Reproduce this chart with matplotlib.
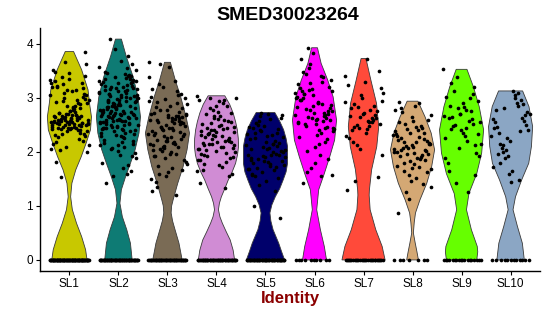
import numpy as np
import matplotlib
matplotlib.use('Agg')
import matplotlib.pyplot as plt

plt.rcParams['font.family'] = ['Liberation Sans', 'DejaVu Sans']

# =============================================================================
# DATA
# =============================================================================
groups = ['SL1', 'SL2', 'SL3', 'SL4', 'SL5', 'SL6', 'SL7', 'SL8', 'SL9', 'SL10']
colors = ['#C8C800', '#0E7B74', '#7A6B55', '#D08CD4', '#00006B',
          '#FF00FF', '#FF4A3A', '#D4A874', '#66FF00', '#8BA6C4']

# number of cells with zero expression in each group
n_zero = [80, 60, 50, 50, 50, 10, 30, 7, 18, 12]

# expression of the non-zero cells
sl1 = [2.55, 3.21, 2.68, 2.43, 3.05, 2.61, 1.82, 2.88, 2.50, 3.33, 2.47, 2.72, 2.20, 3.47, 2.58, 2.64, 2.95, 2.39, 3.12, 2.53,
       2.66, 2.09, 3.28, 2.45, 2.57, 3.86, 2.76, 2.31, 2.62, 3.00, 2.52, 2.84, 2.44, 3.18, 2.70, 2.15, 2.59, 3.38, 2.49, 2.63,
       2.93, 2.36, 3.66, 2.56, 2.74, 2.03, 3.08, 2.51, 2.67, 2.41, 3.25, 2.60, 2.82, 2.27, 2.54, 3.15, 2.46, 2.69, 1.53, 2.98,
       2.58, 3.31, 2.40, 2.65, 2.12, 2.79, 2.52, 3.02, 2.44, 3.52, 2.62, 2.34, 2.90, 2.55, 3.20, 2.48, 2.71, 2.06, 2.86, 2.57,
       3.41, 2.42, 2.64, 2.24, 3.10, 2.53, 2.77, 2.60, 3.27, 2.38, 2.50, 2.97, 2.66, 3.62, 2.45, 2.18, 2.81, 2.59, 3.06, 2.51,
       2.73, 2.33, 3.36, 2.56, 2.91, 2.47, 2.00, 2.68, 3.23, 2.54, 2.85, 2.43, 3.14, 2.61, 2.29, 2.75, 3.49, 2.49, 2.63, 2.96]
sl2 = [2.85, 3.32, 2.41, 2.96, 3.18, 2.12, 2.74, 3.55, 2.63, 1.88, 3.05, 2.52, 3.27, 2.79, 2.35, 3.12, 4.09, 2.68, 2.90, 2.22,
       3.41, 2.57, 3.00, 1.71, 2.83, 3.22, 2.46, 2.71, 3.37, 2.05, 2.93, 2.60, 3.15, 2.38, 3.90, 2.77, 2.50, 3.08, 2.15, 2.87,
       3.29, 2.65, 1.56, 2.99, 2.43, 3.46, 2.74, 3.19, 2.30, 2.58, 3.03, 2.81, 1.95, 3.35, 2.54, 2.69, 3.11, 2.27, 2.92, 3.62,
       2.48, 2.76, 3.24, 2.08, 2.62, 3.01, 1.43, 2.86, 3.39, 2.55, 2.73, 3.16, 2.33, 2.97, 2.44, 3.77, 2.66, 3.06, 2.19, 2.84,
       3.30, 2.59, 1.80, 2.94, 3.21, 2.40, 2.70, 3.48, 2.52, 2.88, 3.09, 2.25, 2.64, 3.33, 2.01, 2.78, 3.14, 2.47, 2.95, 3.69,
       2.56, 1.64, 2.82, 3.26, 2.36, 2.72, 3.04, 2.61, 2.17, 3.43, 2.89, 2.50, 3.20, 2.67, 1.92, 2.98, 2.42, 3.10, 2.75, 3.52,
       2.29, 2.60, 3.36, 2.83, 2.53, 2.10, 3.07, 2.70, 3.28, 2.45, 1.75, 2.91, 3.17, 2.57, 2.80, 3.40, 2.32, 2.66, 3.02, 2.49,
       1.98, 2.87, 3.23, 2.63, 2.39, 3.58, 2.76, 2.94, 2.20, 3.12, 2.55, 1.60, 2.85, 3.31, 2.68, 2.44, 3.00, 2.73, 2.13, 3.45]
sl3 = [2.65, 2.12, 3.05, 2.41, 1.78, 2.58, 2.93, 2.24, 1.55, 2.70, 3.31, 2.05, 2.48, 2.86, 1.92, 2.63, 2.30, 3.66, 2.17, 2.55,
       1.66, 2.77, 2.38, 3.12, 2.01, 2.68, 2.27, 1.44, 2.52, 2.98, 2.14, 2.61, 3.62, 1.85, 2.44, 2.72, 2.09, 3.20, 2.33, 1.70,
       2.59, 2.81, 2.20, 1.27, 2.66, 2.46, 3.00, 1.97, 2.36, 2.74, 2.11, 3.38, 2.54, 1.60, 2.29, 2.69, 2.03, 2.90, 2.42, 1.81,
       2.62, 2.23, 3.08, 2.50, 1.49, 2.15, 2.78, 2.34, 3.58, 1.93, 2.57, 2.07, 2.95, 2.40, 1.74, 2.64, 2.26, 3.16, 1.20, 2.47,
       2.71, 2.00, 2.83, 2.37, 1.88, 2.60, 2.18, 3.26, 2.53, 1.63, 2.31, 2.67, 2.10, 2.89, 2.45, 1.35, 2.56, 2.21, 3.02, 1.96]
sl4 = [2.21, 2.63, 1.85, 2.97, 2.35, 2.08, 2.74, 1.67, 2.44, 2.15, 3.03, 2.29, 1.92, 2.56, 2.02, 2.39, 1.34, 2.81, 2.12, 2.48,
       1.78, 2.26, 2.67, 2.05, 2.90, 2.33, 1.60, 2.18, 2.52, 1.98, 2.41, 3.00, 2.10, 2.70, 1.88, 2.30, 1.42, 2.59, 2.14, 2.37,
       2.94, 1.95, 2.23, 2.77, 2.06, 1.72, 2.45, 2.19, 2.86, 2.31, 1.82, 2.54, 2.00, 2.66, 2.27, 1.55, 2.40, 2.96, 2.09, 2.34,
       1.90, 2.61, 2.16, 2.85, 2.24, 1.64, 2.50, 2.03, 2.72, 2.37, 1.97, 2.20, 2.99, 2.47, 1.75, 2.13, 2.58, 2.32, 1.86, 2.43]
sl5 = [2.05, 1.72, 2.38, 1.91, 2.61, 1.55, 2.17, 1.84, 2.46, 1.99, 1.38, 2.27, 2.70, 1.79, 2.11, 1.63, 2.33, 1.95, 2.54, 2.02,
       1.47, 1.88, 2.21, 2.66, 1.76, 2.08, 1.00, 2.42, 1.93, 1.69, 2.15, 2.50, 1.83, 2.29, 1.58, 1.97, 2.73, 2.12, 1.74, 2.36,
       0.77, 1.90, 2.24, 1.66, 2.57, 2.00, 1.81, 2.44, 1.52, 2.09, 1.95, 2.31, 1.71, 2.63, 2.18, 1.86, 1.28, 2.40, 2.03, 1.77,
       2.25, 1.94, 2.48, 1.68, 2.14, 1.87, 2.68, 2.06, 1.60, 2.35]
sl6 = [2.72, 3.15, 2.45, 2.91, 3.48, 2.24, 2.63, 3.02, 1.56, 2.80, 3.33, 2.51, 2.96, 2.18, 3.62, 2.68, 2.40, 3.08, 1.87, 2.85,
       3.25, 2.57, 3.93, 2.76, 2.32, 3.12, 2.62, 1.70, 2.99, 3.40, 2.48, 2.82, 2.10, 3.19, 2.66, 3.55, 2.38, 2.93, 1.42, 2.70,
       3.05, 2.55, 3.29, 2.02, 2.87, 2.60, 3.72, 2.44, 2.78, 3.10, 1.95, 2.52, 3.21, 2.73, 2.28, 3.38, 2.64, 1.58, 2.90, 3.00,
       2.47, 3.16, 2.83, 2.35, 3.45, 2.59, 1.80, 2.97, 2.69, 3.27, 2.42, 2.15, 3.07, 2.75, 3.83, 2.54, 2.88, 1.63, 3.13, 2.61]
sl7 = [2.65, 3.41, 2.48, 2.88, 1.54, 2.71, 3.24, 2.56, 2.12, 2.95, 3.73, 2.40, 2.63, 3.05, 2.30, 2.78, 1.47, 2.52, 3.30, 2.67,
       2.86, 2.44, 3.10, 2.58, 2.19, 2.75, 2.99, 1.30, 2.62, 2.50, 3.18, 2.36, 2.81, 2.69, 2.05, 2.92, 2.55, 2.46, 3.50, 2.73,
       2.25, 2.60, 2.84, 1.95, 2.42]
sl8 = [2.12, 1.74, 2.45, 1.96, 2.68, 1.52, 2.25, 2.03, 1.83, 2.38, 2.91, 1.65, 2.17, 1.98, 2.55, 1.40, 2.08, 2.31, 1.89, 2.74,
       2.21, 1.71, 2.00, 2.48, 1.25, 2.14, 2.86, 1.93, 2.36, 1.58, 2.06, 2.27, 1.80, 2.60, 2.10, 0.86, 1.95, 2.42, 1.68, 2.19,
       2.82, 2.02, 1.46, 2.33, 1.87, 2.52, 2.15, 1.77, 2.92, 2.24, 1.12, 1.99, 2.40, 2.08, 1.62, 2.64, 2.29, 1.91, 2.11, 1.35,
       2.47, 2.04, 1.85, 2.35, 2.78, 1.73, 2.18, 1.97, 2.57, 2.23]
sl9 = [2.45, 3.28, 2.12, 2.71, 1.88, 2.58, 3.12, 2.33, 2.90, 1.65, 2.52, 2.81, 3.53, 2.20, 2.64, 1.98, 2.40, 3.02, 2.75, 1.42,
       2.55, 2.29, 2.86, 3.20, 2.08, 2.67, 1.25, 2.48, 2.95, 2.36, 1.79, 2.61, 3.38, 2.15, 2.78, 2.42, 1.57, 2.70, 2.25, 2.99,
       2.50, 1.92, 2.83, 2.62, 3.07]
sl10 = [2.35, 2.88, 1.92, 2.61, 3.10, 2.12, 2.74, 1.65, 2.47, 2.96, 2.03, 2.30, 3.05, 1.80, 2.68, 2.20, 2.55, 1.48, 2.82, 2.41,
        3.13, 1.97, 2.63, 2.25, 1.72, 2.91, 2.08, 2.50, 1.44, 2.78, 2.38, 1.88, 2.70, 3.00, 2.15, 2.58, 1.60, 2.44, 2.85, 2.00]
expr = [sl1, sl2, sl3, sl4, sl5, sl6, sl7, sl8, sl9, sl10]

# violin outlines: expression levels and half-width of the violin at each level
vio_y = [
    [0, 0.19, 0.43, 0.68, 0.93, 1.17, 1.42, 1.67, 1.91, 2.16, 2.41, 2.65, 2.90, 3.15, 3.52, 3.86],
    [0, 0.31, 0.56, 0.80, 1.05, 1.30, 1.54, 1.79, 2.04, 2.35, 2.65, 3.02, 3.39, 3.77, 4.09],
    [0, 0.31, 0.56, 0.72, 0.87, 1.00, 1.11, 1.42, 1.73, 2.04, 2.35, 2.65, 3.02, 3.33, 3.66],
    [0, 0.18, 0.37, 0.52, 0.68, 0.80, 0.93, 1.05, 1.17, 1.32, 1.48, 1.63, 1.79, 1.95, 2.10, 2.25, 2.41, 2.56, 2.72, 2.88, 3.04],
    [0, 0.15, 0.31, 0.56, 0.72, 0.87, 1.02, 1.17, 1.32, 1.48, 1.63, 1.79, 1.95, 2.10, 2.25, 2.41, 2.57, 2.73],
    [0, 0.25, 0.56, 0.93, 1.30, 1.60, 1.91, 2.22, 2.59, 3.02, 3.33, 3.64, 3.93],
    [0, 0.25, 0.56, 0.93, 1.20, 1.30, 1.67, 2.10, 2.47, 2.90, 3.33, 3.73],
    [0, 0.15, 0.31, 0.50, 0.70, 0.87, 1.11, 1.42, 1.73, 2.04, 2.35, 2.65, 2.94],
    [0, 0.15, 0.25, 0.56, 0.93, 1.23, 1.60, 1.98, 2.41, 2.84, 3.21, 3.53],
    [0, 0.31, 0.62, 0.93, 1.17, 1.48, 1.79, 2.10, 2.47, 2.84, 3.13],
]
vio_w = [
    [0.36, 0.33, 0.25, 0.145, 0.06, 0.025, 0.05, 0.13, 0.24, 0.34, 0.43, 0.45, 0.41, 0.38, 0.25, 0.085],
    [0.28, 0.245, 0.17, 0.08, 0.03, 0.06, 0.145, 0.245, 0.34, 0.42, 0.45, 0.40, 0.30, 0.16, 0.06],
    [0.30, 0.235, 0.155, 0.105, 0.075, 0.085, 0.115, 0.21, 0.32, 0.40, 0.45, 0.38, 0.27, 0.16, 0.06],
    [0.37, 0.34, 0.28, 0.20, 0.12, 0.07, 0.04, 0.06, 0.10, 0.17, 0.24, 0.32, 0.39, 0.43, 0.45, 0.445, 0.425, 0.39, 0.34, 0.27, 0.17],
    [0.39, 0.33, 0.27, 0.155, 0.11, 0.09, 0.13, 0.20, 0.29, 0.36, 0.42, 0.45, 0.45, 0.45, 0.42, 0.37, 0.29, 0.19],
    [0.245, 0.20, 0.12, 0.045, 0.085, 0.20, 0.31, 0.41, 0.45, 0.38, 0.27, 0.135, 0.06],
    [0.44, 0.38, 0.25, 0.135, 0.115, 0.12, 0.165, 0.27, 0.31, 0.265, 0.15, 0.05],
    [0.12, 0.09, 0.055, 0.017, 0.035, 0.06, 0.15, 0.29, 0.39, 0.45, 0.38, 0.255, 0.11],
    [0.31, 0.33, 0.32, 0.20, 0.10, 0.15, 0.31, 0.41, 0.45, 0.36, 0.24, 0.11],
    [0.28, 0.24, 0.14, 0.05, 0.10, 0.225, 0.37, 0.425, 0.45, 0.375, 0.245],
]

# =============================================================================
# PLOT
# =============================================================================
fig = plt.figure(figsize=(5.5, 3.16), dpi=100)
ax = fig.add_axes([40 / 550, 45 / 316, 500 / 550, 243.5 / 316])

GOLD = 0.6180339887  # low-discrepancy horizontal jitter (geom_jitter width 0.4)
for i, g in enumerate(groups):
    pos = i + 1
    ys = np.array(vio_y[i])
    ws = np.array(vio_w[i])
    # violin body
    xs = np.concatenate([pos - ws, (pos + ws)[::-1]])
    yy = np.concatenate([ys, ys[::-1]])
    ax.fill(xs, yy, facecolor=colors[i], edgecolor='#3a3a3a', linewidth=0.6, zorder=2)

    # jittered cells (zeros first, then expressing cells)
    vals = np.concatenate([np.zeros(n_zero[i]), np.array(expr[i])])
    idx = np.arange(len(vals))
    jit = ((idx * GOLD + 0.31 * i) % 1.0 - 0.5) * 0.8
    ax.scatter(pos + jit, vals, s=7, color='black', linewidths=0, zorder=3)

ax.set_xlim(0.4, 10.6)
ax.set_ylim(-0.205, 4.305)
ax.set_xticks(range(1, len(groups) + 1))
ax.set_xticklabels(groups)
ax.set_yticks([0, 1, 2, 3, 4])

for side in ['top', 'right']:
    ax.spines[side].set_visible(False)
for side in ['left', 'bottom']:
    ax.spines[side].set_linewidth(1.0)
ax.tick_params(axis='both', length=3, width=0.8, labelsize=8.5, colors='black', pad=2)

fig.text(288 / 550, 1 - 16 / 316, 'SMED30023264', ha='center', va='center',
         fontsize=14, fontweight='bold')
fig.text(290 / 550, 1 - 298 / 316, 'Identity', ha='center', va='center',
         fontsize=12, fontweight='bold', color='#8B0000')

plt.savefig('out.png', dpi=100)
